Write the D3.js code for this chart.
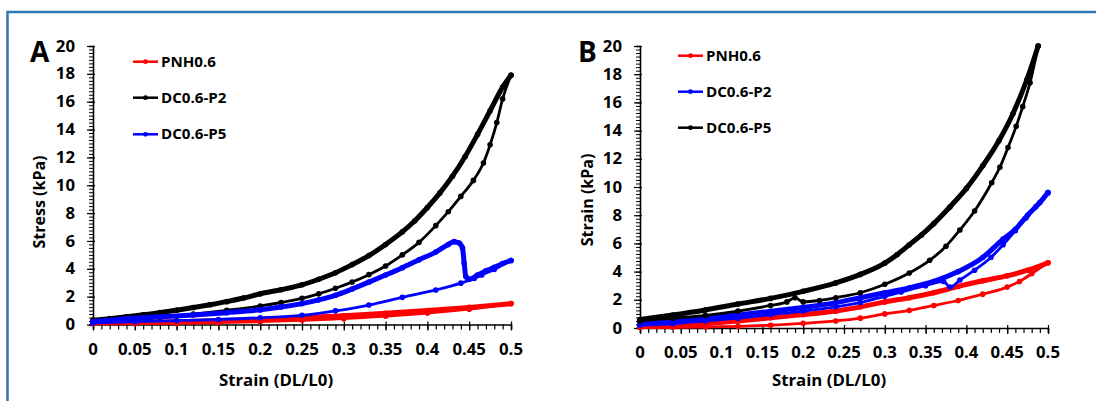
<!DOCTYPE html>
<html><head><meta charset="utf-8">
<script src="https://cdn.jsdelivr.net/npm/d3@7"></script>
<style>
html,body{margin:0;padding:0;background:#fff;}
svg{display:block;}
text{font-family:"Open Sans",Lato,"Liberation Sans",sans-serif;font-weight:700;fill:#000;}
</style></head>
<body>
<svg id="chart" width="1096" height="401"></svg>
<script>
// ---------- data ----------
const xTicks = [0, 0.05, 0.1, 0.15, 0.2, 0.25, 0.3, 0.35, 0.4, 0.45, 0.5];
const xTickLabels = ["0","0.05","0.1","0.15","0.2","0.25","0.3","0.35","0.4","0.45","0.5"];
const yTicks = [0, 2, 4, 6, 8, 10, 12, 14, 16, 18, 20];
const yTickLabels = ["0","2","4","6","8","10","12","14","16","18","20"];

// Panel A
const legendA = ["PNH0.6", "DC0.6-P2", "DC0.6-P5"];
const colorsA = ["#ff0000", "#000000", "#0000ff"];
const aPNH_up = [[0,0.12],[0.05,0.15],[0.1,0.2],[0.15,0.27],[0.2,0.36],[0.25,0.48],[0.3,0.62],[0.35,0.8],[0.4,1.0],[0.45,1.23],[0.5,1.5]];
const aPNH_down = [[0,0.05],[0.05,0.06],[0.1,0.08],[0.15,0.13],[0.2,0.2],[0.25,0.3],[0.3,0.42],[0.35,0.6],[0.4,0.82],[0.45,1.1],[0.5,1.5]];
const aP2_up = [[0,0.3],[0.02,0.42],[0.04,0.56],[0.06,0.7],[0.08,0.85],[0.1,1.03],[0.12,1.22],[0.14,1.42],[0.16,1.64],[0.18,1.9],[0.2,2.2],[0.225,2.5],[0.25,2.85],[0.27,3.25],[0.29,3.72],[0.31,4.3],[0.33,4.95],[0.35,5.75],[0.37,6.65],[0.385,7.45],[0.4,8.4],[0.415,9.45],[0.43,10.65],[0.445,12.05],[0.46,13.65],[0.475,15.35],[0.49,17.05],[0.5,17.9]];
const aP2_down = [[0,0.15],[0.04,0.3],[0.08,0.5],[0.12,0.75],[0.16,1.02],[0.2,1.33],[0.225,1.58],[0.25,1.88],[0.27,2.2],[0.29,2.6],[0.31,3.05],[0.33,3.58],[0.35,4.2],[0.37,5.0],[0.39,5.9],[0.41,7.1],[0.425,8.1],[0.44,9.2],[0.455,10.35],[0.467,11.6],[0.475,12.9],[0.483,14.5],[0.49,16.2],[0.5,17.9]];
const aP5_up = [[0,0.2],[0.04,0.42],[0.08,0.55],[0.12,0.68],[0.16,0.85],[0.2,1.05],[0.225,1.25],[0.25,1.5],[0.27,1.77],[0.29,2.1],[0.31,2.55],[0.33,3.04],[0.35,3.55],[0.37,4.08],[0.39,4.65],[0.41,5.2],[0.425,5.75],[0.432,5.95],[0.438,5.85],[0.442,5.5],[0.444,4.4],[0.446,3.45],[0.45,3.25],[0.46,3.55],[0.47,3.85],[0.48,4.1],[0.49,4.38],[0.5,4.6]];
const aP5_down = [[0,0.12],[0.05,0.2],[0.1,0.28],[0.15,0.36],[0.2,0.48],[0.25,0.66],[0.29,0.98],[0.33,1.4],[0.37,1.95],[0.41,2.48],[0.44,2.97],[0.456,3.3],[0.465,3.55],[0.48,3.95],[0.5,4.6]];

// Panel B
const legendB = ["PNH0.6", "DC0.6-P2", "DC0.6-P5"];
const colorsB = ["#ff0000", "#0000ff", "#000000"];
const bPNH_up = [[0,0.1],[0.04,0.15],[0.08,0.3],[0.12,0.5],[0.16,0.72],[0.2,0.95],[0.24,1.2],[0.27,1.5],[0.3,1.85],[0.33,2.15],[0.36,2.5],[0.39,2.95],[0.42,3.35],[0.45,3.7],[0.475,4.1],[0.5,4.63]];
const bPNH_down = [[0,0.05],[0.04,0.05],[0.08,0.08],[0.12,0.12],[0.16,0.2],[0.2,0.33],[0.24,0.5],[0.27,0.7],[0.3,1.0],[0.33,1.25],[0.36,1.6],[0.39,1.95],[0.42,2.4],[0.45,2.9],[0.465,3.3],[0.48,3.85],[0.5,4.63]];
const bP2_up = [[0,0.3],[0.04,0.55],[0.08,0.72],[0.12,0.93],[0.16,1.18],[0.2,1.45],[0.24,1.8],[0.27,2.15],[0.3,2.5],[0.33,2.85],[0.36,3.3],[0.39,4.0],[0.42,5.0],[0.445,6.3],[0.46,7.0],[0.475,8.0],[0.49,8.9],[0.5,9.6]];
const bP2_down = [[0,0.2],[0.04,0.3],[0.08,0.5],[0.12,0.7],[0.16,0.95],[0.2,1.2],[0.24,1.5],[0.27,1.8],[0.3,2.25],[0.32,2.55],[0.35,3.0],[0.372,3.3],[0.38,2.9],[0.392,3.4],[0.41,4.1],[0.43,5.0],[0.445,5.9],[0.46,6.9],[0.473,7.8],[0.485,8.6],[0.5,9.6]];
const bP5_up = [[0,0.6],[0.04,0.92],[0.08,1.28],[0.12,1.7],[0.16,2.1],[0.2,2.6],[0.24,3.2],[0.27,3.8],[0.3,4.6],[0.315,5.2],[0.33,5.9],[0.345,6.6],[0.36,7.4],[0.38,8.6],[0.4,9.9],[0.42,11.5],[0.44,13.3],[0.457,15.2],[0.474,17.6],[0.488,20]];
const bP5_down = [[0,0.5],[0.04,0.7],[0.08,0.9],[0.12,1.2],[0.16,1.6],[0.18,1.85],[0.19,2.15],[0.2,1.85],[0.22,1.95],[0.24,2.15],[0.27,2.5],[0.3,3.1],[0.33,3.9],[0.355,4.8],[0.375,5.8],[0.392,6.95],[0.41,8.3],[0.431,10.3],[0.441,11.4],[0.451,12.8],[0.461,14.3],[0.469,15.7],[0.478,17.4],[0.488,20]];

// ---------- drawing ----------
const svg = d3.select("#chart");
svg.append("rect").attr("x",7.5).attr("y",12).attr("width",1200).attr("height",500)
  .attr("fill","none").attr("stroke","#2e75b6").attr("stroke-width",2.5);

function stretch(sel, k){
  sel.each(function(){
    const L = this.getComputedTextLength();
    d3.select(this).attr("textLength", L*k).attr("lengthAdjust","spacingAndGlyphs");
  });
  return sel;
}

function panel(cfg){
  const g = svg.append("g");
  const x = d3.scaleLinear().domain([0,0.5]).range(cfg.xr);
  const y = d3.scaleLinear().domain([0,20]).range(cfg.yr);
  const x0 = cfg.xr[0], y0 = cfg.yr[0];

  // x axis
  const xa = g.append("g").attr("transform",`translate(0,${y0})`)
    .call(d3.axisBottom(x).tickValues(d3.range(0,0.5001,0.01)).tickSize(5).tickFormat(""));
  xa.select(".domain").attr("stroke-width",1.6);
  xa.selectAll(".tick line").attr("stroke-width",1.2);
  g.append("g").attr("transform",`translate(0,${y0})`)
    .call(d3.axisBottom(x).tickValues(xTicks).tickSize(6).tickFormat(""))
    .call(s=>s.select(".domain").remove())
    .call(s=>s.selectAll(".tick line").attr("y1",-3).attr("stroke-width",1.2));
  xTicks.forEach((t,i)=>{
    stretch(g.append("text").attr("x",x(t)).attr("y",cfg.xlabY).attr("text-anchor","middle")
      .attr("font-size",15.5).text(xTickLabels[i]), 1.08);
  });
  // y axis
  const ya = g.append("g").attr("transform",`translate(${x0},0)`)
    .call(d3.axisLeft(y).tickValues(d3.range(0,20.001,0.25)).tickSize(4).tickFormat(""));
  ya.select(".domain").attr("stroke-width",1.6);
  ya.selectAll(".tick line").attr("stroke-width",1);
  g.append("g").attr("transform",`translate(${x0},0)`)
    .call(d3.axisLeft(y).tickValues(yTicks).tickSize(6).tickFormat(""))
    .call(s=>s.select(".domain").remove())
    .call(s=>s.selectAll(".tick line").attr("x1",2).attr("stroke-width",1.2));
  yTicks.forEach((t,i)=>{
    stretch(g.append("text").attr("x",x0-18).attr("y",y(t)).attr("dy","0.36em").attr("text-anchor","end")
      .attr("font-size",15.5).text(yTickLabels[i]), 1.08);
  });
  // titles
  stretch(g.append("text").attr("x",cfg.xtX).attr("y",cfg.xtY).attr("text-anchor","middle")
    .attr("font-size",16).text("Strain (DL/L0)"), 1.05);
  g.append("text").attr("transform",`translate(${cfg.ytX},${cfg.ytY}) rotate(-90)`)
    .attr("text-anchor","middle").attr("dy","0.35em").attr("font-size",16).text(cfg.ytitle);
  g.append("text").attr("x",cfg.letX).attr("y",61.5).attr("font-size",28).text(cfg.letter);

  // series
  const line = d3.line().x(d=>x(d[0])).y(d=>y(d[1])).curve(d3.curveMonotoneX);
  cfg.series.forEach(s=>{
    [s.up, s.down].forEach((arr,k)=>{
      g.append("path").datum(arr).attr("d",line).attr("fill","none")
        .attr("stroke",s.color).attr("stroke-width",k===0?5:2.8)
        .attr("stroke-linejoin","round").attr("stroke-linecap","round");
      g.selectAll(null).data(arr).enter().append("circle")
        .attr("cx",d=>x(d[0])).attr("cy",d=>y(d[1])).attr("r",2.8).attr("fill",s.color);
    });
  });

  // legend
  cfg.legend.forEach((name,i)=>{
    const ly = cfg.legY[i];
    g.append("line").attr("x1",cfg.legX).attr("x2",cfg.legX+25).attr("y1",ly).attr("y2",ly)
      .attr("stroke",cfg.legColors[i]).attr("stroke-width",2.5);
    g.append("circle").attr("cx",cfg.legX+12.5).attr("cy",ly).attr("r",2.4).attr("fill",cfg.legColors[i]);
    stretch(g.append("text").attr("x",cfg.legX+28).attr("y",ly).attr("dy","0.36em").attr("font-size",14).text(name), 1.08);
  });
}

panel({xr:[93,511], yr:[324.5,46], xlabY:354.5, xtX:276, xtY:386, ytX:39, ytY:202, ytitle:"Stress (kPa)",
  letter:"A", letX:30, legend:legendA, legColors:colorsA, legX:133, legY:[61.7,97.7,134.3],
  series:[{color:colorsA[0],up:aPNH_up,down:aPNH_down},{color:colorsA[1],up:aP2_up,down:aP2_down},{color:colorsA[2],up:aP5_up,down:aP5_down}]});
panel({xr:[640,1048], yr:[328,46], xlabY:357.5, xtX:829, xtY:386, ytX:587, ytY:200, ytitle:"Strain (kPa)",
  letter:"B", letX:578, legend:legendB, legColors:colorsB, legX:678, legY:[55.7,91.7,127.7],
  series:[{color:colorsB[0],up:bPNH_up,down:bPNH_down},{color:colorsB[1],up:bP2_up,down:bP2_down},{color:colorsB[2],up:bP5_up,down:bP5_down}]});
</script>
</body></html>
